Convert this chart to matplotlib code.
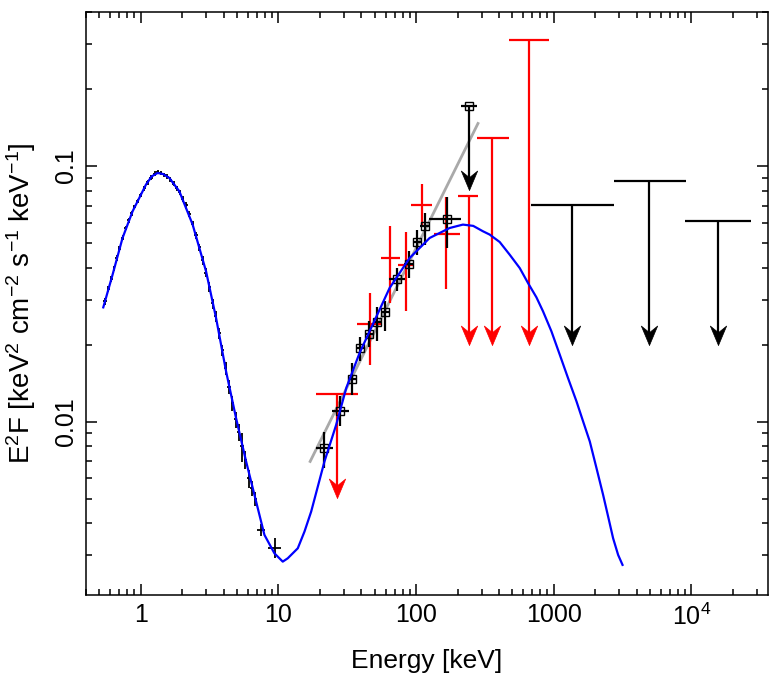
import matplotlib
matplotlib.use("Agg")

import matplotlib.pyplot as plt
import numpy as np
from matplotlib.ticker import FixedLocator, FixedFormatter, LogLocator, NullFormatter

plt.rcParams["font.family"] = ["Liberation Sans", "DejaVu Sans"]
plt.rcParams["mathtext.default"] = "regular"

# ---- model curve (blue)
model_E = [0.534, 0.624, 0.737, 0.872, 1.091, 1.20, 1.325, 1.45, 1.612, 1.906,
           2.381, 2.98, 3.524, 4.166, 4.924, 5.823, 6.884, 7.911, 9.352, 10.75,
           11.68, 13.82, 15.46, 17.29, 21.60, 26.28, 31.08, 38.82, 45.90, 64.17,
           89.70, 125.4, 175.3, 218.9, 260.0, 306.0, 342.3, 404.8, 478.6, 565.9,
           650.3, 748.5, 835.9, 962.3, 1106, 1270, 1463, 1634, 1827, 2044,
           2283, 2483, 2699, 2935, 3159]
model_F = [0.02799, 0.03758, 0.05228, 0.06648, 0.08457, 0.0910, 0.09389, 0.0930, 0.08975, 0.07960,
           0.05898, 0.03870, 0.02542, 0.01572, 0.01032, 0.00699, 0.00487, 0.003608, 0.003056, 0.002836,
           0.002922, 0.003198, 0.003718, 0.004451, 0.00699, 0.00973, 0.01353, 0.01854, 0.02254, 0.03331,
           0.04364, 0.05228, 0.05720, 0.05898, 0.05830, 0.05553, 0.05391, 0.05042, 0.04497, 0.03988,
           0.03484, 0.03063, 0.02700, 0.02254, 0.01827, 0.01480, 0.01200, 0.01002, 0.008368, 0.00658,
           0.005174, 0.004256, 0.003499, 0.003013, 0.002754]

# ---- soft X-ray data (black crosses)
soft_E = [0.55, 0.58, 0.61, 0.64, 0.67, 0.70, 0.74, 0.78, 0.82, 0.86, 0.90, 0.95,
          1.00, 1.06, 1.12, 1.19, 1.26, 1.33, 1.40, 1.48, 1.56, 1.64, 1.73, 1.82,
          1.92, 2.02, 2.13, 2.25, 2.38, 2.52, 2.66, 2.81, 2.97, 3.14, 3.32, 3.51,
          3.71, 3.92, 4.14, 4.37, 4.62, 4.88, 5.15, 5.44, 5.75, 6.07, 6.41, 6.77,
          7.49, 9.46]
soft_dE = [0.015, 0.015, 0.015, 0.015, 0.015, 0.02, 0.02, 0.02, 0.02, 0.02, 0.02, 0.025,
           0.025, 0.03, 0.03, 0.035, 0.035, 0.035, 0.035, 0.04, 0.04, 0.04, 0.045, 0.045,
           0.05, 0.05, 0.055, 0.06, 0.065, 0.07, 0.07, 0.075, 0.08, 0.085, 0.09, 0.095,
           0.10, 0.10, 0.11, 0.12, 0.12, 0.13, 0.14, 0.15, 0.15, 0.16, 0.17, 0.18,
           0.55, 1.00]
soft_F = [0.0296, 0.0330, 0.0362, 0.0398, 0.0436, 0.0474, 0.0525, 0.0571, 0.0612,
          0.0652, 0.0690, 0.0731, 0.0770, 0.0818, 0.0862, 0.0901, 0.0934, 0.0948,
          0.0941, 0.0922, 0.0908, 0.0885, 0.0853, 0.0818, 0.0788, 0.0742, 0.0702,
          0.0650, 0.0594, 0.0535, 0.0480, 0.0428, 0.0383, 0.0337, 0.0290, 0.0258,
          0.0222, 0.0190, 0.0162, 0.0137, 0.0118, 0.0102, 0.0091, 0.0080, 0.0071,
          0.0060, 0.0055, 0.0050, 0.003775, 0.003218]
soft_rel = [0.03, 0.03, 0.03, 0.025, 0.025, 0.025, 0.02, 0.02, 0.02, 0.02, 0.02, 0.02,
            0.02, 0.02, 0.02, 0.02, 0.02, 0.02, 0.02, 0.02, 0.02, 0.025, 0.025, 0.025,
            0.025, 0.03, 0.03, 0.03, 0.03, 0.035, 0.035, 0.04, 0.04, 0.045, 0.045, 0.05,
            0.05, 0.05, 0.06, 0.06, 0.07, 0.07, 0.08, 0.13, 0.08, 0.08, 0.07, 0.06,
            0.05, 0.09]

# ---- hard X-ray data, black (open squares)
hx_E = [21.6, 28.1, 34.1, 39.3, 45.4, 51.9, 59.7, 73.0, 88.6, 101.3, 115.3, 167.5]
hx_Elo = [18.8, 24.4, 31.8, 37.1, 42.4, 48.5, 55.5, 63.4, 81.5, 96.4, 106.0, 123.9]
hx_Ehi = [24.8, 32.3, 36.7, 41.9, 48.5, 55.5, 63.8, 82.5, 96.4, 108.4, 125.6, 213.2]
hx_F = [0.00787, 0.01103, 0.01472, 0.01939, 0.02201, 0.02445, 0.02683, 0.03624,
        0.04150, 0.05042, 0.05808, 0.06203]
hx_Flo = [0.00658, 0.00966, 0.01274, 0.01720, 0.01957, 0.02073, 0.02268, 0.03233,
          0.03644, 0.04497, 0.04923, 0.04776]
hx_Fhi = [0.00915, 0.01255, 0.01694, 0.02136, 0.02474, 0.02800, 0.02973, 0.03987,
          0.04666, 0.05638, 0.06547, 0.07590]

# black upper limits
bul_E = [240.9, 1368, 4933, 15580]
bul_Elo = [213.2, 688.3, 2732, 8970]
bul_Ehi = [276.8, 2745, 9074, 26950]
bul_F = [0.1713, 0.07065, 0.0871, 0.0607]
bul_tip = [0.0808, 0.0200, 0.0200, 0.0200]

# ---- red data
red_E = [45.9, 64.2, 83.9, 110.9, 163.9]
red_Elo = [37.4, 55.2, 73.7, 92.3, 134.1]
red_Ehi = [56.8, 75.9, 95.9, 131.2, 207.3]
red_F = [0.02416, 0.04364, 0.04112, 0.07065, 0.05420]
red_Flo = [0.01670, 0.02909, 0.02700, 0.05898, 0.03301]
red_Fhi = [0.03184, 0.05808, 0.05500, 0.08502, 0.07590]

# red upper limits
rul_E = [26.5, 240.9, 355.8, 661.3]
rul_Elo = [18.6, 201.4, 276.8, 473.1]
rul_Ehi = [38.0, 281.5, 470.8, 924.5]
rul_F = [0.01281, 0.0766, 0.1287, 0.3097]
rul_tip = [0.00502, 0.0200, 0.0200, 0.0200]

# grey power law
pl_E = [17.0, 281.5]
pl_F = [0.00699, 0.1466]

x_ticks = [1, 10, 100, 1000, 1e4]
x_ticklabels = ["1", "10", "100", "1000", r"10$^4$"]
y_ticks = [0.01, 0.1]
y_ticklabels = ["0.01", "0.1"]

# barbed arrow head, tip at the origin
HEAD = [(0, 0), (-0.42, 1), (0, 0.66), (0.42, 1), (0, 0)]


def upper_limits(ax, E, Elo, Ehi, F, tip, color, z):
    E = np.array(E)
    ax.hlines(F, Elo, Ehi, color=color, lw=1.6, zorder=z)
    ax.vlines(E, np.array(tip) * 1.06, F, color=color, lw=1.6, zorder=z)
    ax.plot(E, tip, ls="none", marker=HEAD, ms=28, color=color,
            mec=color, mew=0.5, zorder=z)


fig = plt.figure(figsize=(7.77, 6.88), dpi=100)
ax = fig.add_axes([86 / 777, 1 - 595 / 688, 682 / 777, 583 / 688])
ax.set_xscale("log")
ax.set_yscale("log")

# soft data
sE = np.array(soft_E)
sF = np.array(soft_F)
ax.errorbar(sE, sF, xerr=soft_dE, yerr=sF * np.array(soft_rel), fmt="none",
            ecolor="black", elinewidth=1.3, capsize=0, zorder=3)

# grey power law
ax.plot(pl_E, pl_F, color="#a9a9a9", lw=2, zorder=2)

# red points
rE = np.array(red_E)
rF = np.array(red_F)
ax.errorbar(rE, rF, xerr=[rE - red_Elo, np.array(red_Ehi) - rE],
            yerr=[rF - red_Flo, np.array(red_Fhi) - rF], fmt="none",
            ecolor="red", elinewidth=1.6, capsize=0, zorder=3)
upper_limits(ax, rul_E, rul_Elo, rul_Ehi, rul_F, rul_tip, "red", 3)

# black hard X-ray points
hE = np.array(hx_E)
hF = np.array(hx_F)
ax.errorbar(hE, hF, xerr=[hE - hx_Elo, np.array(hx_Ehi) - hE],
            yerr=[hF - hx_Flo, np.array(hx_Fhi) - hF], fmt="s", ms=6,
            mfc="none", mec="black", mew=1.0, ecolor="black",
            elinewidth=1.6, capsize=0, zorder=4)
upper_limits(ax, bul_E, bul_Elo, bul_Ehi, bul_F, bul_tip, "black", 4)
ax.plot(bul_E[:1], bul_F[:1], ls="none", marker="s", ms=6, mfc="none",
        mec="black", mew=1.0, zorder=4)

# model
ax.plot(model_E, model_F, color="blue", lw=1.6, zorder=5)

ax.set_xlim(0.4, 36000)
ax.set_ylim(0.0021, 0.4)

ax.xaxis.set_major_locator(FixedLocator(x_ticks))
ax.xaxis.set_major_formatter(FixedFormatter(x_ticklabels))
ax.xaxis.set_minor_locator(LogLocator(base=10, subs=np.arange(2, 10), numticks=20))
ax.xaxis.set_minor_formatter(NullFormatter())
ax.yaxis.set_major_locator(FixedLocator(y_ticks))
ax.yaxis.set_major_formatter(FixedFormatter(y_ticklabels))
ax.yaxis.set_minor_locator(LogLocator(base=10, subs=np.arange(2, 10), numticks=20))
ax.yaxis.set_minor_formatter(NullFormatter())

ax.tick_params(which="both", direction="in", top=True, right=True, width=1.1,
               labelsize=18, color="black")
ax.tick_params(which="major", length=8)
ax.tick_params(which="minor", length=4.5)
ax.tick_params(axis="x", pad=6)
ax.tick_params(axis="y", pad=6, labelrotation=90)
for lab in ax.get_yticklabels():
    lab.set_va("center")

for sp in ax.spines.values():
    sp.set_linewidth(1.1)

ax.set_xlabel("Energy [keV]", fontsize=19, labelpad=14)
ax.set_ylabel(r"E$^2$F [keV$^2$ cm$^{-2}$ s$^{-1}$ keV$^{-1}$]", fontsize=20,
              labelpad=11)

plt.savefig("out.png", dpi=100)
plt.close(fig)
